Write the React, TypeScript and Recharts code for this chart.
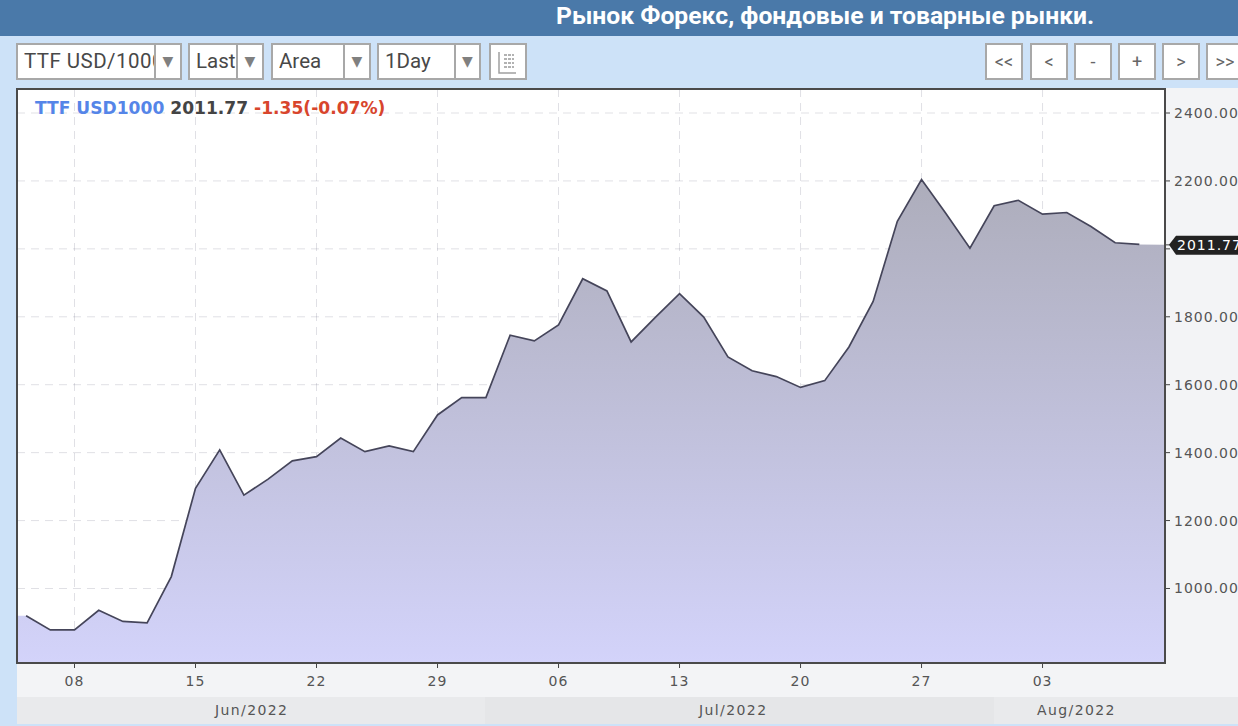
import React from 'react';
import {
  ComposedChart,
  Area,
  Line,
  XAxis,
  YAxis,
  CartesianGrid
} from 'recharts';

// daily closes, 6 Jun 2022 .. 10 Aug 2022, business days only
const closes = [
  920, 878, 878, 936, 903, 899, 1035, 1295, 1408, 1275, 1322, 1376,
  1388, 1443, 1403, 1420, 1403, 1511, 1562, 1562, 1746, 1729, 1776, 1912,
  1876, 1726, 1798, 1868, 1799, 1682, 1641, 1624, 1592, 1612, 1711, 1845,
  2081, 2204, 2105, 2002, 2127, 2143, 2102, 2107, 2066, 2018, 2013.12, 2011.77
];
const xTickIndexes = [2, 7, 12, 17, 22, 27, 32, 37, 42];
const xTickLabels = ['08', '15', '22', '29', '06', '13', '20', '27', '03'];
const yTicks = [1000, 1200, 1400, 1600, 1800, 2000, 2200, 2400];
const lastValue = 2011.77;
const monthLabels = ['Jun/2022', 'Jul/2022', 'Aug/2022'];

const X_MIN = -0.376;
const X_MAX = 47.06;

const rows: any[] = [
  { x: X_MIN, close: closes[0], line: null },
  ...closes.map((close, i) => ({ x: i, close, line: i < closes.length - 1 ? close : null })),
  { x: X_MAX, close: closes[closes.length - 1], line: null }
];

const AXIS_FONT = '"DejaVu Sans", sans-serif';

function YTick({ x, y, payload }: any) {
  if (payload.value === lastValue) {
    return (
      <g>
        <path
          d={`M${x - 3} ${y} L${x + 4} ${y - 9} H${x + 80} V${y + 10} H${x + 4} Z`}
          fill="#222222"
        />
        <text
          x={x + 5}
          y={y + 5.5}
          fill="#ffffff"
          fontFamily={AXIS_FONT}
          fontSize={14}
          letterSpacing={1}
        >
          {lastValue.toFixed(2)}
        </text>
      </g>
    );
  }
  // the 2000 label sits behind the price tag
  if (payload.value === 2000) return null;
  return (
    <text
      x={x + 2}
      y={y + 5}
      fill="#555555"
      fontFamily={AXIS_FONT}
      fontSize={14}
      letterSpacing={1}
    >
      {payload.value.toFixed(2)}
    </text>
  );
}

function Select({ left, right, divider, label, spacing = 0 }: any) {
  return (
    <div
      style={{
        position: 'absolute',
        left,
        top: 43,
        width: right - left,
        height: 37,
        boxSizing: 'border-box',
        background: '#ffffff',
        border: '2px solid #a8a8a8',
        overflow: 'hidden'
      }}
    >
      <div
        style={{
          position: 'absolute',
          left: 6,
          top: 4,
          width: divider - left - 8,
          overflow: 'hidden',
          whiteSpace: 'nowrap',
          fontSize: 20.5,
          letterSpacing: spacing,
          color: '#484848'
        }}
      >
        {label}
      </div>
      <div
        style={{
          position: 'absolute',
          left: divider - left - 2,
          top: 0,
          bottom: 0,
          right: 0,
          background: '#ffffff',
          borderLeft: '2px solid #a8a8a8',
          textAlign: 'center',
          color: '#808080',
          fontFamily: AXIS_FONT,
          fontSize: 14,
          lineHeight: '33px'
        }}
      >
        ▼
      </div>
    </div>
  );
}

const navButtons = ['<<', '<', '-', '+', '>', '>>'];
const navLefts = [985, 1030, 1074, 1118, 1162, 1206];

export default function App() {
  return (
    <div
      style={{
        position: 'absolute',
        left: 0,
        top: 0,
        width: 1238,
        height: 726,
        overflow: 'hidden',
        background: '#cde2f8',
        fontFamily: 'Roboto, sans-serif'
      }}
    >
      <div style={{ position: 'absolute', left: 0, top: 0, width: 1238, height: 36, background: '#4a79a9' }} />
      <div
        style={{
          position: 'absolute',
          left: 556,
          top: 1,
          color: '#ffffff',
          fontWeight: 700,
          fontSize: 24.7,
          whiteSpace: 'nowrap'
        }}
      >
        Рынок Форекс, фондовые и товарные рынки.
      </div>

      <Select left={16} right={182} divider={154} label="TTF USD/1000" spacing={0.45} />
      <Select left={188} right={264} divider={236} label="Last" />
      <Select left={271} right={371} divider={343} label="Area" />
      <Select left={377} right={481} divider={454} label="1Day" />
      <div
        style={{
          position: 'absolute',
          left: 489,
          top: 43,
          width: 38,
          height: 37,
          boxSizing: 'border-box',
          background: '#ffffff',
          border: '2px solid #a8a8a8'
        }}
      >
        <svg width={34} height={33}>
          <path d="M8 7 V28 H25" stroke="#a0a0a0" strokeWidth={1.5} fill="none" />
          <path
            d="M13 10 H23 M13 14 H23 M13 18 H23 M13 22 H23"
            stroke="#999999"
            strokeWidth={1.5}
            strokeDasharray="3 1"
            fill="none"
          />
        </svg>
      </div>

      {navButtons.map((b, i) => (
        <div
          key={b}
          style={{
            position: 'absolute',
            left: navLefts[i],
            top: 43,
            width: 38,
            height: 37,
            boxSizing: 'border-box',
            background: '#ffffff',
            border: '2px solid #a8a8a8',
            color: '#666666',
            fontSize: 18,
            lineHeight: '33px',
            textAlign: 'center'
          }}
        >
          {b}
        </div>
      ))}

      {/* panel behind the axes */}
      <div style={{ position: 'absolute', left: 17, top: 88, right: 0, height: 636, background: '#f3f4f6' }} />
      <div style={{ position: 'absolute', left: 17, top: 89, width: 1148, height: 574, background: '#ffffff' }} />

      {/* month strip */}
      {monthLabels.map((label, i) => {
        const edges = [17, 485, 994, 1238];
        const textLefts = [215, 699, 1037];
        return (
          <div
            key={label}
            style={{
              position: 'absolute',
              left: edges[i],
              width: edges[i + 1] - edges[i],
              top: 697,
              height: 27,
              background: i === 1 ? '#e5e6e8' : '#e9eaec',
              textIndent: textLefts[i] - edges[i],
              color: '#555555',
              fontFamily: AXIS_FONT,
              fontSize: 14,
              letterSpacing: 1.4,
              lineHeight: '27px',
              whiteSpace: 'nowrap'
            }}
          >
            {label}
          </div>
        );
      })}

      <div style={{ position: 'absolute', left: 0, top: 0 }}>
        <ComposedChart
          width={1238}
          height={726}
          data={rows}
          margin={{ top: 89, right: 0, bottom: 0, left: 17 }}
        >
          <defs>
            <linearGradient id="ttfFill" x1="0" y1="0" x2="0" y2="1">
              <stop offset="0%" stopColor="#adadbb" />
              <stop offset="100%" stopColor="#d3d3fa" />
            </linearGradient>
          </defs>
          <XAxis
            dataKey="x"
            type="number"
            domain={[X_MIN, X_MAX]}
            ticks={xTickIndexes}
            interval={0}
            height={63}
            tickSize={5}
            axisLine={false}
            tickLine={{ stroke: '#444444' }}
            tickFormatter={(v: number) => xTickLabels[xTickIndexes.indexOf(v)]}
            tick={{ fill: '#555555', fontFamily: AXIS_FONT, fontSize: 14, letterSpacing: 1, dy: 6 }}
          />
          <YAxis
            orientation="right"
            type="number"
            domain={[780.6, 2470.7]}
            allowDataOverflow
            ticks={[...yTicks, lastValue]}
            interval={0}
            width={73}
            tickSize={5}
            axisLine={false}
            tickLine={{ stroke: '#444444' }}
            tick={<YTick />}
          />
          <Area
            dataKey="close"
            type="linear"
            stroke="none"
            fill="url(#ttfFill)"
            fillOpacity={1}
            dot={false}
            activeDot={false}
            isAnimationActive={false}
          />
          <CartesianGrid
            stroke="rgba(70, 70, 100, 0.17)"
            strokeDasharray="8 6"
            horizontalValues={yTicks}
            verticalValues={xTickIndexes}
          />
          <Line
            dataKey="line"
            type="linear"
            stroke="#45455a"
            strokeWidth={1.7}
            dot={false}
            activeDot={false}
            isAnimationActive={false}
          />
        </ComposedChart>
      </div>

      {/* plot frame */}
      <div
        style={{
          position: 'absolute',
          left: 16,
          top: 88,
          width: 1150,
          height: 576,
          boxSizing: 'border-box',
          border: '2px solid #4a4a4a',
          pointerEvents: 'none'
        }}
      />

      <div
        style={{
          position: 'absolute',
          left: 35,
          top: 98,
          fontFamily: AXIS_FONT,
          fontWeight: 700,
          fontSize: 17.1,
          whiteSpace: 'nowrap'
        }}
      >
        <span style={{ color: '#5585e8' }}>TTF USD1000</span>{' '}
        <span style={{ color: '#444444' }}>2011.77</span>{' '}
        <span style={{ color: '#d8452c' }}>-1.35(-0.07%)</span>
      </div>
    </div>
  );
}
